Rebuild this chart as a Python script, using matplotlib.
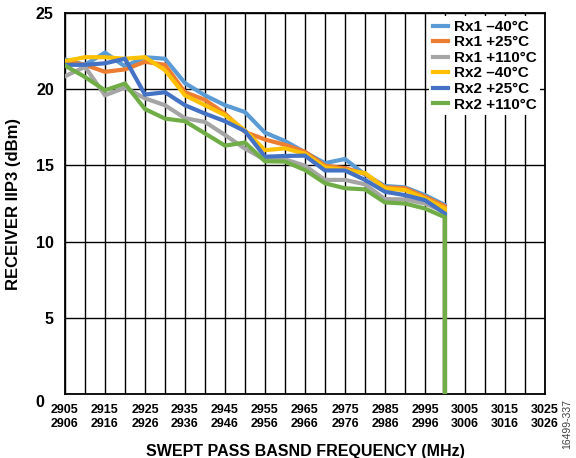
import matplotlib
matplotlib.use('Agg')
import matplotlib.pyplot as plt
from matplotlib.transforms import ScaledTranslation

plt.rcParams['font.family'] = ['Liberation Sans', 'DejaVu Sans']
plt.rcParams['font.weight'] = 'bold'

# swept frequency (MHz) of each measured point
freqs = [2905, 2910, 2915, 2920, 2925, 2930, 2935, 2940, 2945, 2950,
         2955, 2960, 2965, 2970, 2975, 2980, 2985, 2990, 2995, 3000]
# sweep ends: every trace falls to 0 at the last frequency
drop_freq = 3000
drop_value = 0

rx1_m40 = [21.95, 21.6, 22.4, 21.5, 22.1, 22.0, 20.4, 19.6, 18.95, 18.5,
           17.15, 16.6, 15.86, 15.15, 15.42, 14.4, 13.65, 13.56, 13.05, 12.4]
rx1_p25 = [21.84, 21.6, 21.14, 21.3, 21.8, 21.6, 19.8, 19.3, 18.4, 17.2,
           16.7, 16.35, 15.9, 14.98, 14.82, 14.45, 13.56, 13.5, 12.94, 12.32]
rx1_p110 = [20.85, 21.47, 19.6, 20.1, 19.4, 18.95, 18.1, 17.85, 17.0, 16.1,
            15.37, 15.4, 14.98, 14.05, 14.05, 13.76, 12.79, 12.77, 12.5, 11.95]
rx2_m40 = [21.84, 22.1, 22.1, 22.0, 22.1, 21.25, 19.6, 18.95, 18.3, 17.3,
           16.0, 16.12, 15.77, 14.87, 14.7, 14.5, 13.5, 13.38, 12.83, 12.17]
rx2_p25 = [21.6, 21.6, 21.7, 22.0, 19.65, 19.8, 18.95, 18.4, 17.9, 17.25,
           15.57, 15.62, 15.64, 14.67, 14.67, 14.05, 13.27, 13.05, 12.72, 11.84]
rx2_p110 = [21.55, 20.8, 19.93, 20.37, 18.7, 18.07, 17.9, 17.1, 16.3, 16.5,
            15.27, 15.25, 14.7, 13.83, 13.5, 13.43, 12.57, 12.5, 12.17, 11.6]

series = [
    ('Rx1 \u201340°C', rx1_m40, '#5B9BD5'),
    ('Rx1 +25°C', rx1_p25, '#ED7D31'),
    ('Rx1 +110°C', rx1_p110, '#A5A5A5'),
    ('Rx2 \u201340°C', rx2_m40, '#FFC000'),
    ('Rx2 +25°C', rx2_p25, '#4472C4'),
    ('Rx2 +110°C', rx2_p110, '#70AD47'),
]

# category axis: 2905..3025 in 5 MHz steps, labelled every 10 MHz
tick_freqs = [2905, 2910, 2915, 2920, 2925, 2930, 2935, 2940, 2945, 2950,
              2955, 2960, 2965, 2970, 2975, 2980, 2985, 2990, 2995, 3000,
              3005, 3010, 3015, 3020, 3025]
tick_top = ['2905', '', '2915', '', '2925', '', '2935', '', '2945', '',
            '2955', '', '2965', '', '2975', '', '2985', '', '2995', '',
            '3005', '', '3015', '', '3025']
tick_bottom = ['2906', '', '2916', '', '2926', '', '2936', '', '2946', '',
               '2956', '', '2966', '', '2976', '', '2986', '', '2996', '',
               '3006', '', '3016', '', '3026']
tick_labels = [a + '\n' + b if a else '' for a, b in zip(tick_top, tick_bottom)]

fig = plt.figure(figsize=(5.76, 4.58), dpi=100)
ax = fig.add_axes([0.1128, 0.1397, 0.8333, 0.8319])

for label, vals, color in series:
    ax.plot(freqs + [drop_freq], vals + [drop_value], color=color, lw=3.0,
            label=label, zorder=3, solid_joinstyle='miter')

ax.set_xlim(2905, 3025)
ax.set_ylim(0, 25)
ax.set_xticks(tick_freqs)
ax.set_xticklabels(tick_labels, fontsize=9, fontweight='bold', linespacing=1.25)
ax.set_yticks([0, 5, 10, 15, 20, 25])
ax.tick_params(axis='x', length=0, pad=7)
ax.tick_params(axis='y', length=0, pad=8, labelsize=11.5)
ax.grid(True, color='black', lw=1.0)
ax.set_axisbelow(True)
for sp in ax.spines.values():
    sp.set_color('black')
    sp.set_linewidth(1.3)

# Excel nudges the "0" label down-left
zero_lbl = ax.get_yticklabels()[0]
zero_lbl.set_transform(zero_lbl.get_transform() +
                       ScaledTranslation(-7 / 72, -5 / 72, fig.dpi_scale_trans))

ax.set_ylabel('RECEIVER IIP3 (dBm)', fontsize=12, fontweight='bold', labelpad=10)
ax.set_xlabel('SWEPT PASS BASND FREQUENCY (MHz)', fontsize=11.5,
              fontweight='bold', labelpad=10)

leg = ax.legend(loc='upper right', bbox_to_anchor=(0.99, 0.992), borderaxespad=0,
                fontsize=11, handlelength=1.0, handletextpad=0.35,
                labelspacing=0.1, borderpad=0.25, fancybox=False,
                framealpha=1, facecolor='white', edgecolor='none')
for t in leg.get_texts():
    t.set_fontweight('bold')

fig.text(0.985, 0.075, '16499-337', rotation=90, fontsize=7.5,
         fontweight='normal', color='#404040', ha='center', va='center')

fig.savefig('out.png', dpi=100)
